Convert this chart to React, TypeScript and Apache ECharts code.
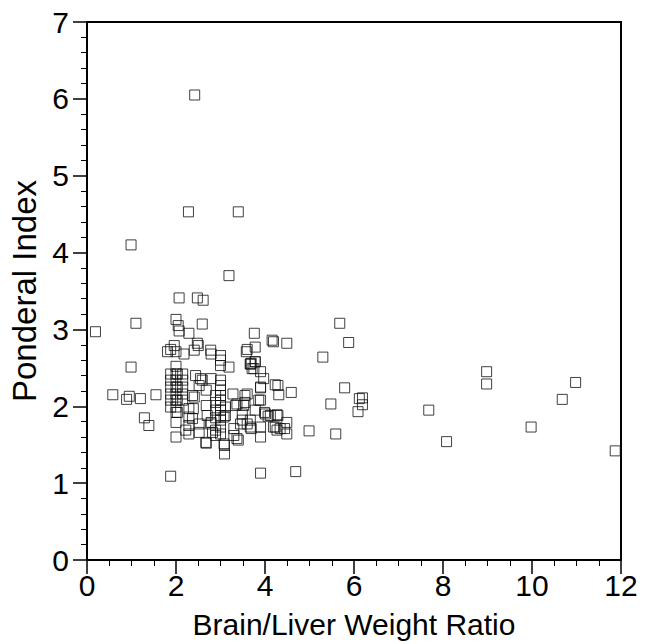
import React, { useEffect, useRef } from "react";
import * as echarts from "echarts";

const xTicks = [0, 2, 4, 6, 8, 10, 12];
const yTicks = [0, 1, 2, 3, 4, 5, 6, 7];
const xTitle = "Brain/Liver Weight Ratio";
const yTitle = "Ponderal Index";

// Brain/liver weight ratio (x) and ponderal index (y)
const ratio: number[] = [
  2.42, 2.28, 3.40, 0.99, 3.19, 2.07, 2.48, 2.61,
  1.10, 2.00, 2.05, 0.19, 2.07, 2.29, 2.59, 3.76, 5.68,
  4.19, 4.49, 5.88, 4.16, 3.78, 1.96, 1.88, 2.48, 2.41, 3.60, 2.78,
  2.00, 1.81, 2.18, 2.50, 2.79, 3.00, 3.00, 3.00, 3.19, 3.58, 3.69, 3.75, 3.67, 3.78, 5.30,
  0.99, 2.00, 3.90, 5.79, 3.97, 4.23, 4.29, 4.59, 3.90, 4.31, 5.48, 6.12, 6.09, 6.19, 6.19,
  0.58, 0.95, 0.89, 1.20, 1.55, 1.29, 1.39,
  1.88, 1.88, 1.88, 1.88, 1.88, 1.88,
  2.00, 2.00, 2.00, 2.00, 2.00, 2.00, 2.00, 2.00, 2.00,
  2.03, 2.03, 2.03, 2.03,
  2.15, 2.15, 2.15, 2.15, 2.15,
  2.29, 2.29, 2.29, 2.39, 2.41, 2.44, 2.55, 2.52, 2.37, 2.59, 2.68, 2.68, 2.68, 2.79, 2.79, 2.89,
  2.70, 2.89, 2.89, 2.89, 2.89, 2.29, 2.37, 2.22, 2.52, 2.52, 2.78, 2.82, 2.67, 2.89,
  3.00, 3.00, 3.00, 3.00, 3.00, 3.00, 3.00, 3.00, 3.00, 3.00, 3.00,
  3.09, 3.09, 3.11, 3.11, 3.28, 3.30, 3.30, 3.40, 3.34, 3.49, 3.55, 3.55, 3.49, 3.60,
  3.69, 3.78, 3.90, 3.90, 3.99, 4.07, 4.12, 4.23, 4.34, 4.44, 4.49, 4.49, 4.29, 4.99, 5.59,
  3.60, 3.86, 3.37, 3.52, 3.08, 4.01, 4.27, 3.45, 3.67, 3.67, 3.90, 4.19, 4.27, 3.37, 3.08,
  3.71, 3.67, 3.78, 3.90,
  1.88, 3.90, 4.69,
  7.68, 8.08, 8.98, 8.98, 9.98, 10.98, 10.68, 11.87,
];
const ponderal: number[] = [
  6.05, 4.53, 4.53, 4.10, 3.70, 3.41, 3.41, 3.38,
  3.08, 3.13, 3.05, 2.97, 2.98, 2.95, 3.07, 2.95, 3.08,
  2.84, 2.82, 2.83, 2.86, 2.77, 2.79, 2.74, 2.82, 2.73, 2.74, 2.73,
  2.71, 2.71, 2.68, 2.79, 2.68, 2.66, 2.60, 2.53, 2.51, 2.71, 2.56, 2.49, 2.55, 2.58, 2.64,
  2.51, 2.52, 2.45, 2.24, 2.36, 2.28, 2.27, 2.18, 2.24, 2.15, 2.03, 2.10, 1.93, 2.11, 2.02,
  2.15, 2.13, 2.09, 2.10, 2.15, 1.85, 1.75,
  2.42, 2.34, 2.25, 2.16, 2.08, 1.99,
  2.42, 2.34, 2.25, 2.16, 2.08, 1.99, 1.92, 1.79, 1.60,
  2.42, 2.25, 2.08, 1.92,
  2.42, 2.34, 2.25, 2.16, 2.08,
  1.86, 1.75, 1.64, 1.97, 2.12, 2.40, 2.36, 2.27, 2.14, 2.34, 2.21, 2.01, 1.52, 2.36, 1.79, 1.69,
  1.88, 2.14, 2.05, 1.95, 1.85, 1.97, 1.84, 1.69, 1.77, 1.66, 1.77, 1.66, 1.53, 1.62,
  2.34, 2.27, 2.21, 2.14, 2.08, 2.01, 1.95, 1.88, 1.82, 1.73, 1.64,
  1.49, 1.38, 1.99, 1.88, 2.16, 1.71, 1.62, 1.56, 2.01, 1.90, 2.14, 2.05, 1.82, 1.77,
  1.71, 1.95, 2.08, 1.60, 1.92, 1.87, 1.88, 1.73, 1.71, 1.71, 1.79, 1.64, 1.88, 1.68, 1.64,
  2.16, 2.08, 2.03, 2.01, 1.86, 1.90, 1.89, 1.77, 1.82, 1.73, 1.73, 1.73, 1.69, 1.58, 1.51,
  2.49, 2.55, 2.58, 2.25,
  1.09, 1.13, 1.15,
  1.95, 1.54, 2.45, 2.29, 1.73, 2.31, 2.09, 1.42,
];

export default function App() {
  const ref = useRef<HTMLDivElement>(null);
  useEffect(() => {
    if (!ref.current) return;
    const chart = echarts.init(ref.current, null, { renderer: "svg" });
    const data = ratio.map((x, i) => [x, ponderal[i]]);
    const font = "'Liberation Sans', Arial, Helvetica, sans-serif";
    chart.setOption({
      animation: false,
      backgroundColor: "#fff",
      grid: {
        left: 84,
        right: 27,
        top: 22,
        bottom: 84,
        show: true,
        borderColor: "#000",
        borderWidth: 2,
        backgroundColor: "transparent",
      },
      xAxis: {
        type: "value",
        min: xTicks[0],
        max: xTicks[xTicks.length - 1],
        interval: 2,
        name: xTitle,
        nameLocation: "middle",
        nameGap: 49,
        nameTextStyle: { fontFamily: font, fontSize: 30, color: "#000" },
        axisLine: { show: true, onZero: false, lineStyle: { color: "#000", width: 2 } },
        axisTick: { show: true, inside: false, length: 14, lineStyle: { color: "#000", width: 1.5 } },
        minorTick: { show: true, splitNumber: 4, length: 6, lineStyle: { color: "#000", width: 1 } },
        splitLine: { show: false },
        minorSplitLine: { show: false },
        axisLabel: {
          fontFamily: font,
          fontSize: 30,
          color: "#000",
          margin: 10,
          formatter: (v: number) => (xTicks.includes(v) ? String(v) : ""),
        },
      },
      yAxis: {
        type: "value",
        min: yTicks[0],
        max: yTicks[yTicks.length - 1],
        interval: 1,
        name: yTitle,
        nameLocation: "middle",
        nameGap: 46,
        nameTextStyle: { fontFamily: font, fontSize: 33, color: "#000" },
        axisLine: { show: true, onZero: false, lineStyle: { color: "#000", width: 2 } },
        axisTick: { show: true, inside: false, length: 14, lineStyle: { color: "#000", width: 1.5 } },
        minorTick: { show: true, splitNumber: 5, length: 6, lineStyle: { color: "#000", width: 1 } },
        splitLine: { show: false },
        minorSplitLine: { show: false },
        axisLabel: {
          fontFamily: font,
          fontSize: 30,
          color: "#000",
          margin: 18,
          formatter: (v: number) => (yTicks.includes(v) ? String(v) : ""),
        },
      },
      series: [
        {
          type: "scatter",
          data,
          symbol: "rect",
          symbolSize: 10,
          itemStyle: { color: "rgba(0,0,0,0)", borderColor: "#111", borderWidth: 1 },
          emphasis: { disabled: true },
        },
      ],
    });
    return () => chart.dispose();
  }, []);
  return (
    <div
      ref={ref}
      style={{ position: "fixed", left: 0, top: 0, width: 648, height: 644, background: "#fff" }}
    />
  );
}
